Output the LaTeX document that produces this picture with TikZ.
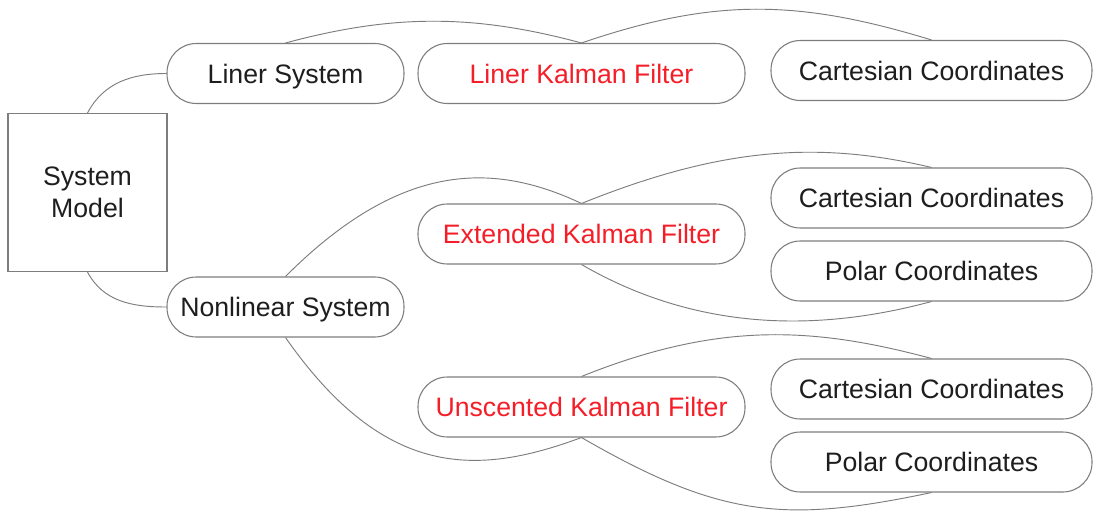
\documentclass[tikz,border=0pt]{standalone}
\usepackage{fontspec}
\setmainfont{Liberation Sans}
\definecolor{linegray}{RGB}{125,125,125}
\definecolor{inkdark}{RGB}{30,30,30}
\definecolor{filterred}{RGB}{245,30,40}
\begin{document}
\begin{tikzpicture}[x=0.75pt, y=-0.75pt,
  every node/.style={font=\fontsize{20}{24}\selectfont, text=inkdark},
  pill/.style={draw=linegray, line width=0.8pt, rounded corners=22pt,
    minimum height=45pt, inner sep=0pt, text height=15pt, text depth=0.7pt},
  syspill/.style={pill, minimum width=177.75pt},
  filterpill/.style={pill, minimum width=245.25pt, text=filterred},
  coordpill/.style={pill, minimum width=240.75pt},
  modelbox/.style={draw=linegray, line width=0.8pt, minimum width=119.25pt,
    minimum height=118.5pt, inner sep=0pt, align=center},
  link/.style={draw=linegray, line width=0.7pt}
]
\useasboundingbox[fill=white] (0,0) rectangle (1094,510);

% system model and the two system kinds
\node[modelbox] (sys) at (87.5,192.5) {System\\Model};
\node[syspill] (lin) at (285.5,73.5) {Liner System};
\node[syspill] (nonlin) at (285.5,307) {Nonlinear System};

% filters
\node[filterpill] (lkf) at (581.5,73.5) {Liner Kalman Filter};
\node[filterpill] (ekf) at (581.5,234) {Extended Kalman Filter};
\node[filterpill] (ukf) at (581.5,407) {Unscented Kalman Filter};

% coordinate systems
\node[coordpill] (cart1) at (931.5,70.5) {Cartesian Coordinates};
\node[coordpill] (cart2) at (931.5,198) {Cartesian Coordinates};
\node[coordpill] (polar2) at (931.5,271) {Polar Coordinates};
\node[coordpill] (cart3) at (931.5,389) {Cartesian Coordinates};
\node[coordpill] (polar3) at (931.5,462) {Polar Coordinates};

% model to systems
\draw[link] (sys.north) to[out=62, in=180] (lin.west);
\draw[link] (sys.south) to[out=-62, in=180] (nonlin.west);

% linear branch
\draw[link] (lin.north) .. controls +(108,-29) and +(-108,-29) .. (lkf.north);
\draw[link] (lkf.north) .. controls +(132,-45) and +(-134,-41) .. (cart1.north);

% nonlinear branch
\draw[link] (nonlin.north) .. controls +(113,-113) and +(-91,-43) .. (ekf.north);
\draw[link] (nonlin.south) .. controls +(100,143) and +(-103,38) .. (ukf.south);

% extended filter
\draw[link] (ekf.north) .. controls +(139,-56) and +(-114,-27) .. (cart2.north);
\draw[link] (ekf.south) .. controls +(121,70) and +(-106,28.5) .. (polar2.south);

% unscented filter
\draw[link] (ukf.north) .. controls +(139,-56) and +(-116,-31) .. (cart3.north);
\draw[link] (ukf.south) .. controls +(138.6,80) and +(-147,31) .. (polar3.south);
\end{tikzpicture}
\end{document}
